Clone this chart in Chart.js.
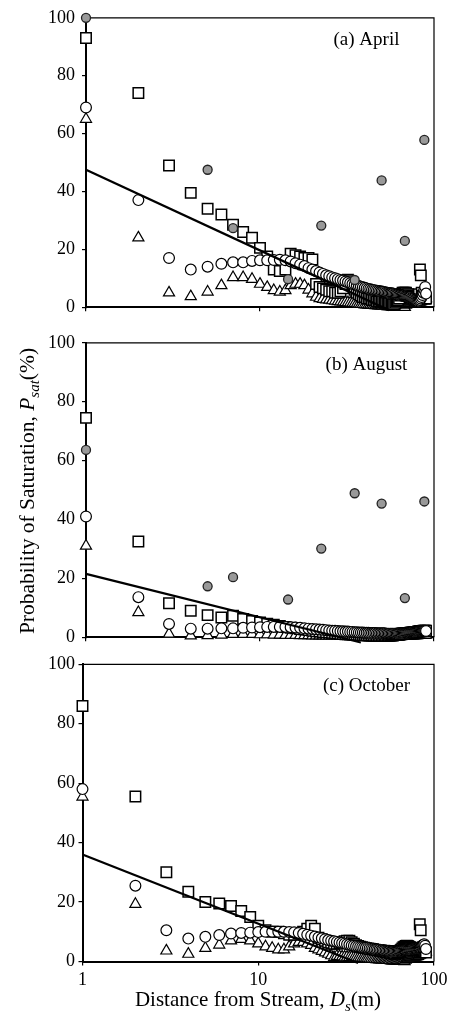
<!DOCTYPE html>
<html><head><meta charset="utf-8">
<script src="https://cdn.jsdelivr.net/npm/chart.js@4.4.1/dist/chart.umd.min.js"></script>
<style>
html,body{margin:0;padding:0;background:#fff;width:457px;height:1012px;overflow:hidden}
canvas{position:absolute;left:0}
</style></head>
<body>
<canvas id="ca" width="457" height="325" style="top:0px"></canvas>
<canvas id="cb" width="457" height="330" style="top:325px"></canvas>
<canvas id="cc" width="457" height="362" style="top:650px"></canvas>
<script>
// ---------- data ----------
const dist = [1,2,3,4,5,6,7,8,9,10,11,12,13,14,15,16,17,18,19,20,21,22,23,24,25,26,27,28,29,30,
  31,32,33,34,35,36,37,38,39,40,41,42,43,44,45,46,47,48,49,50,51,52,53,54,55,56,57,58,59,60,
  61,62,63,64,65,66,67,68,69,70,71,72,73,74,75,76,77,78,79,80,81,82,83,84,85,86,87,88,89,90];
const xTickValues = [1, 10, 100];
const yTickValues = [0, 20, 40, 60, 80, 100];
const panelTitles = ['(a) April', '(b) August', '(c) October'];

// (a) April
const aSquare = [93,74,49,39.5,34,32,28.5,26,24,20.5, 17.5,13,12.5,13,18.5,18,17.5,17,17,16.5,
  8,7,6.5,6,5.5,5.5,5,5,5.5,6.5, 8,9.5,9,8,6,5,4.5,4,3.5,3.5, 3,3,3,2.5,2.5,2.5,2,2,2,2,
  2,1.5,1.5,1.5,1.5,1.5,1,1,1,1.5, 2,2.5,3,4,4.5,5,5,5,5,4.5, 4.5,4,4,3.5,3.5,3,3,3,3,3.5,
  4,4.5,13,11,5,4,3.5,3,3,3];
const aCircle = [69,37,17,13,14,15,15.5,15.5,16,16.2, 16.2,16.3,16.4,16.2,15.8,15.2,14.7,14.2,13.5,13,
  12.5,12,11.5,11,10.7,10.3,10,9.7,9.4,9.2, 8.9,8.6,8.3,8,7.8,7.6,7.3,7.1,6.9,6.7,
  6.5,6.3,6.2,6,5.9,5.8,5.7,5.6,5.5,5.4, 5.3,5.2,5.1,5,4.9,4.8,4.8,4.7,4.6,4.5,
  4.4,4.3,4.2,4.1,4,4,3.9,3.8,3.8,3.7, 3.6,3.5,3.4,3.2,3,2.8,2.6,2.4,2.2,2,
  2,2.2,2.5,3,3.5,4.2,5,6,7,4.7];
const aTriangle = [65,24,5,3.7,5.3,7.5,10.3,10.3,9.7,8, 6.9,5.8,5.3,5.8,7.5,8,8,7.5,6,4.7,
  3.5,3,2.8,2.6,2.5,2.3,2.2,2,1.9,1.8, 1.7,1.6,1.5,1.4,1.3,1.2,1.1,1,1,0.9,
  0.9,0.8,0.8,0.7,0.7,0.6,0.6,0.5,0.5,0.5, 0.4,0.4,0.4,0.3,0.3,0.3,0.3,0.2,0.2,0.2,
  0.2,0.2,0.2,0.3,0.4,0.3,0.3,0,0.8,1, 1.2,1.3,1.4,1.5,1.5,1.5,1.4,1.3,1.2,1.2,
  1.3,1.5,1.8,2,2.3,2.5,2.8,3,3,3];
const aGrayX = [1,5,7,14.5,22.5,35,50,68,88];
const aGrayY = [100,47.5,27.3,9.7,28.2,9.4,43.8,22.9,57.8];
const aTrendX = [1,55];
const aTrendY = [47.5,-1];

// (b) August
const bSquare = [74.5,32.5,11.5,9,7.5,6.7,7.3,6.2,5.5,5, 4.6,4.2,3.8,3.5,3.2,3,2.8,2.6,2.4,2.2,
  2,1.9,1.8,1.7,1.6,1.5,1.4,1.3,1.2,1.1, 1,1,0.9,0.9,0.8,0.8,0.8,0.7,0.7,0.7,
  0.6,0.6,0.6,0.6,0.5,0.5,0.5,0.5,0.5,0.5, 0.5,0.5,0.5,0.5,0.5,0.6,0.6,0.6,0.7,0.7,
  0.8,0.8,0.9,1,1,1.1,1.2,1.2,1.3,1.3, 1.4,1.4,1.5,1.5,1.6,1.6,1.7,1.7,1.8,1.8,
  1.9,1.9,2,2,2.1,2.1,2.2,2.2,2.2,2.2];
const bCircle = [41,13.6,4.5,2.9,2.9,3,3,3.2,3.3,3.4, 3.5,3.5,3.5,3.5,3.4,3.3,3.2,3,2.9,2.8,
  2.7,2.6,2.5,2.4,2.3,2.2,2.2,2.1,2,2, 1.9,1.9,1.8,1.8,1.7,1.7,1.6,1.6,1.6,1.5,
  1.5,1.5,1.4,1.4,1.4,1.4,1.3,1.3,1.3,1.3, 1.3,1.3,1.2,1.2,1.2,1.2,1.2,1.2,1.2,1.2,
  1.2,1.3,1.3,1.3,1.3,1.4,1.4,1.4,1.5,1.5, 1.5,1.6,1.6,1.7,1.7,1.8,1.8,1.9,1.9,2,
  2,2,2.1,2.1,2.1,2.2,2.2,2.2,2.2,2.1];
const bTriangle = [31,8.4,1.1,0.5,0.6,0.8,1,1,1,0.9, 0.9,0.8,0.8,0.7,0.7,0.7,0.6,0.6,0.6,0.5,
  0.5,0.5,0.5,0.4,0.4,0.4,0.4,0.4,0.3,0.3, 0.3,0.3,0.3,0.3,0.3,0.3,0.3,0.3,0.3,0.3,
  0.3,0.3,0.3,0.2,0.2,0.2,0.2,0.2,0.2,0.2, 0.2,0.2,0.2,0.2,0.2,0.2,0.2,0.2,0.2,0.2,
  0.2,0.2,0.2,0.3,0.3,0.3,0.3,0.3,0.4,0.4, 0.4,0.4,0.5,0.5,0.5,0.5,0.6,0.6,0.6,0.6,
  0.7,0.7,0.7,0.7,0.8,0.8,0.8,0.8,0.8,0.8];
const bGrayX = [1,5,7,14.5,22.5,35,50,68,88];
const bGrayY = [63.6,17.3,20.4,12.8,30.1,48.9,45.4,13.3,46.1];
const bTrendX = [1,38];
const bTrendY = [21.5,-1.8];

// (c) October
const cSquare = [86,55.5,30,23.5,20,19.5,18.7,17,15,12, 10.5,10,10,9.5,9,9,9.5,10,11,12,
  11,8,7.5,7,6.5,6.3,6,6,6.2,6.5, 6.8,7,7,6.5,6,5.5,5.2,5,4.8,4.6,
  4.5,4.4,4.3,4.2,4.1,4,3.9,3.8,3.7,3.6, 3.5,3.4,3.3,3.2,3.1,3,2.9,2.8,2.7,2.6,
  2.8,3,3.3,3.6,4,4.4,4.8,5,5.2,5.3, 5.2,5,4.8,4.6,4.4,4.3,4.2,4.1,4,4,
  4.2,4.5,12.5,10.5,4.5,4,3.8,3.5,3.3,3];
const cCircle = [58,25.5,10.5,7.7,8.3,8.9,9.4,9.6,9.7,9.9, 10,10,10,10,9.9,9.8,9.6,9.3,9,8.7,
  8.4,8.1,7.8,7.5,7.2,7,6.8,6.6,6.4,6.2, 6,5.8,5.6,5.4,5.3,5.1,5,4.9,4.8,4.7,
  4.6,4.5,4.4,4.3,4.2,4.1,4,3.9,3.9,3.8, 3.8,3.7,3.7,3.6,3.6,3.6,3.5,3.5,3.5,3.5,
  3.5,3.5,3.6,3.6,3.6,3.7,3.7,3.8,3.8,3.9, 3.9,4,4,4.1,4.1,4.2,4.2,4.3,4.4,4.5,
  4.6,4.7,4.8,5,5.2,5.4,5.6,5.8,5.3,4.2];
const cTriangle = [55.4,19.3,3.6,2.5,4.5,5.6,7,7.5,7,6, 5,4.5,4,4,5,6,6.5,6.5,6,5.5,
  4.5,4,3.5,3,2.5,2,1.4,1.8,1.7,1.6, 1.5,1.5,1.4,1.4,1.3,1.3,1.2,1.2,1.1,1.1,
  1,1,0.9,0.9,0.8,0.8,0.7,0.7,0.6,0.6, 0.5,0.5,0.5,0.4,0.4,0.4,0.3,0.3,0.3,0.3,
  0.3,0.3,0.3,0.3,0.3,0.2,0.2,0,0.5,0.8, 1,1.2,1.3,1.4,1.5,1.5,1.5,1.5,1.6,1.7,
  1.8,2,2.2,2.4,2.6,2.8,3,3.2,3.3,3.3];
const cGrayX = [];
const cGrayY = [];
const cTrendX = [1,37];
const cTrendY = [36,-0.5];

// ---------- helpers ----------
const FONT = '"Liberation Serif", "Times New Roman", serif';
const pts = (xs, ys) => xs.map((x, i) => ({x: x, y: ys[i]}));

function drawRich(ctx, parts, cx, cy, rotate) {
  ctx.save();
  ctx.translate(cx, cy);
  if (rotate) ctx.rotate(-Math.PI / 2);
  let total = 0;
  parts.forEach(p => { ctx.font = p.f; p.w = ctx.measureText(p.t).width; total += p.w; });
  let x = -total / 2;
  ctx.fillStyle = '#000';
  ctx.textBaseline = 'alphabetic';
  ctx.textAlign = 'left';
  parts.forEach(p => { ctx.font = p.f; ctx.fillText(p.t, x, p.dy || 0); x += p.w; });
  ctx.restore();
}

function makePanel(id, cfg) {
  const ctx = document.getElementById(id).getContext('2d');
  const framePlugin = {
    id: 'frame',
    beforeDatasetsDraw(chart) {
      const c = chart.ctx, a = chart.chartArea;
      c.save();
      c.strokeStyle = '#000';
      c.lineWidth = 1.2;
      c.beginPath();
      c.moveTo(a.left, a.top);
      c.lineTo(a.right, a.top);
      c.lineTo(a.right, a.bottom);
      c.stroke();
      c.restore();
    },
    afterDraw(chart) {
      const c = chart.ctx, a = chart.chartArea;
      c.save();
      c.fillStyle = '#000';
      c.font = '19px ' + FONT;
      c.textAlign = 'center';
      c.textBaseline = 'alphabetic';
      c.fillText(cfg.title, 366.5, a.top + 27);
      c.restore();
      if (cfg.extra) cfg.extra(chart);
    }
  };
  const datasets = [
    { label: 'trend', data: pts(cfg.trendX, cfg.trendY), showLine: true, pointRadius: 0,
      borderColor: '#000', borderWidth: 2.3, order: 0, clip: false },
    { label: 'gray', data: pts(cfg.grayX, cfg.grayY), pointStyle: 'circle', pointRadius: 4.5,
      backgroundColor: '#999', borderColor: '#222', borderWidth: 1.3, order: 1, clip: false },
    { label: 'circle', data: pts(dist, cfg.circle), pointStyle: 'circle', pointRadius: 5.4,
      backgroundColor: '#fff', borderColor: '#000', borderWidth: 1.2, order: 2, clip: false },
    { label: 'square', data: pts(dist, cfg.square), pointStyle: 'rect', pointRadius: 7.4,
      backgroundColor: '#fff', borderColor: '#000', borderWidth: 1.5, order: 3, clip: false },
    { label: 'triangle', data: pts(dist, cfg.triangle), pointStyle: 'triangle', pointRadius: 6.4,
      backgroundColor: '#fff', borderColor: '#000', borderWidth: 1.2, order: 4, clip: false }
  ];
  return new Chart(ctx, {
    type: 'scatter',
    data: { datasets: datasets },
    plugins: [framePlugin],
    options: {
      responsive: false,
      animation: false,
      events: [],
      layout: { padding: { top: cfg.padTop, right: 23, left: 0, bottom: 0 } },
      plugins: { legend: { display: false }, tooltip: { enabled: false } },
      scales: {
        x: {
          type: 'logarithmic', min: 1, max: 100,
          afterBuildTicks: s => { s.ticks = xTickValues.map(v => ({ value: v })); },
          afterFit: s => { s.height = cfg.xH; },
          grid: { drawOnChartArea: false, drawTicks: true, tickLength: 4, color: '#000', lineWidth: 1.2 },
          border: { display: true, color: '#000', width: 2 },
          ticks: { display: cfg.xLabels, autoSkip: false, maxRotation: 0, padding: 4, color: '#000',
            font: { family: FONT, size: 18 }, callback: v => String(v) }
        },
        y: {
          min: 0, max: 100,
          afterBuildTicks: s => { s.ticks = yTickValues.map(v => ({ value: v })); },
          afterFit: s => { s.width = cfg.yW; },
          grid: { drawOnChartArea: false, drawTicks: true, tickLength: 4, color: '#000', lineWidth: 1.2 },
          border: { display: true, color: '#000', width: 2 },
          ticks: { padding: cfg.yPad, color: '#000', font: { family: FONT, size: 18 }, callback: v => String(v) }
        }
      }
    }
  });
}

makePanel('ca', { title: panelTitles[0], square: aSquare, circle: aCircle, triangle: aTriangle,
  grayX: aGrayX, grayY: aGrayY, trendX: aTrendX, trendY: aTrendY,
  padTop: 15, xH: 11, yW: 86, yPad: 7, xLabels: false });

makePanel('cb', { title: panelTitles[1], square: bSquare, circle: bCircle, triangle: bTriangle,
  grayX: bGrayX, grayY: bGrayY, trendX: bTrendX, trendY: bTrendY,
  padTop: 10.5, xH: 17, yW: 86, yPad: 7, xLabels: false,
  extra: chart => drawRich(chart.ctx, [
    { t: 'Probability of Saturation, ', f: '21.5px ' + FONT },
    { t: 'P', f: 'italic 21.5px ' + FONT },
    { t: 'sat', f: 'italic 15px ' + FONT, dy: 5 },
    { t: '(%)', f: '21.5px ' + FONT }
  ], 33.5, 166, true) });

makePanel('cc', { title: panelTitles[2], square: cSquare, circle: cCircle, triangle: cTriangle,
  grayX: cGrayX, grayY: cGrayY, trendX: cTrendX, trendY: cTrendY,
  padTop: 9, xH: 50.5, yW: 82.5, yPad: 3.5, xLabels: true,
  extra: chart => drawRich(chart.ctx, [
    { t: 'Distance from Stream, ', f: '21px ' + FONT },
    { t: 'D', f: 'italic 21px ' + FONT },
    { t: 's', f: 'italic 15px ' + FONT, dy: 5 },
    { t: '(m)', f: '21px ' + FONT }
  ], 258, 355.5, false) });
</script>
</body></html>
